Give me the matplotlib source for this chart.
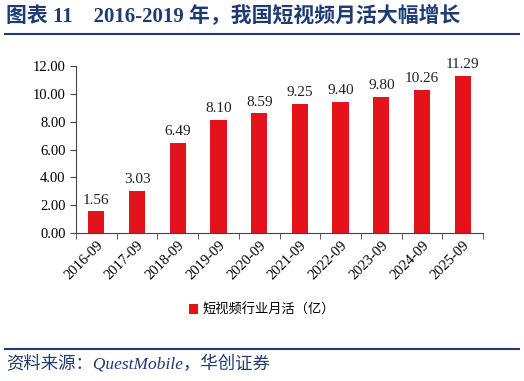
import matplotlib
matplotlib.use("Agg")
import matplotlib.pyplot as plt
import numpy as np

categorias = ["2016-09", "2017-09", "2018-09", "2019-09", "2020-09",
              "2021-09", "2022-09", "2023-09", "2024-09", "2025-09"]
valores = [1.56, 3.03, 6.49, 8.10, 8.59, 9.25, 9.40, 9.80, 10.26, 11.29]
serie_nome = "短视频行业月活（亿）"
titulo = "图表 11    2016-2019 年，我国短视频月活大幅增长"
fonte = "资料来源：QuestMobile，华创证券"

serif = ["Liberation Serif", "Noto Sans CJK SC"]
azul = "#1F3B73"
vermelho = "#E3121B"

fig = plt.figure(figsize=(5.24, 3.81), dpi=100)
ax = fig.add_axes([0.145, 0.388, 0.777, 0.439])

x = np.arange(len(categorias))
barras = ax.bar(x, valores, width=0.4, color=vermelho, label=serie_nome)
for xi, v in zip(x, valores):
    ax.text(xi, v + 0.35, f"{v:.2f}", ha="center", va="bottom",
            fontsize=11, family=serif, color="#222222")

ax.set_xlim(-0.5, len(categorias) - 0.5)
ax.set_ylim(0, 12)
ax.set_yticks(np.arange(0, 12.01, 2))
ax.set_yticklabels([f"{t:.2f}" for t in np.arange(0, 12.01, 2)],
                   family=serif, fontsize=10.5)
ax.set_xticks(x)
ax.set_xticklabels(categorias, rotation=45, ha="right", rotation_mode="anchor",
                   family=serif, fontsize=10.5)
ax.tick_params(axis="x", length=0, pad=4)
ax.set_xticks(np.arange(-0.5, len(categorias), 1), minor=True)
ax.tick_params(axis="x", which="minor", length=4, direction="out", color="#444444")
ax.tick_params(axis="y", length=4, direction="out", color="#444444")
for s in ["top", "right"]:
    ax.spines[s].set_visible(False)
ax.spines["left"].set_color("#444444")
ax.spines["bottom"].set_color("#444444")

fig.legend(handles=[barras], labels=[serie_nome], loc="center",
           bbox_to_anchor=(0.5, 1 - 310 / 381), frameon=False,
           prop={"family": ["Noto Sans CJK SC"], "size": 9.5},
           handlelength=0.7, handleheight=0.7, handletextpad=0.3)

fig.text(0.012, 1 - 16 / 381, titulo, ha="left", va="center", fontsize=15,
         fontweight="bold", family=serif, color=azul)
fig.add_artist(plt.Line2D([0.01, 0.99], [1 - 34 / 381] * 2, color=azul, lw=1.5))
fig.add_artist(plt.Line2D([0.01, 0.99], [1 - 349 / 381] * 2, color=azul, lw=1.5))
fig.text(0.012, 1 - 364 / 381, fonte, ha="left", va="center", fontsize=12.5,
         style="italic", family=serif, color=azul)

fig.savefig("out.png", dpi=100)
